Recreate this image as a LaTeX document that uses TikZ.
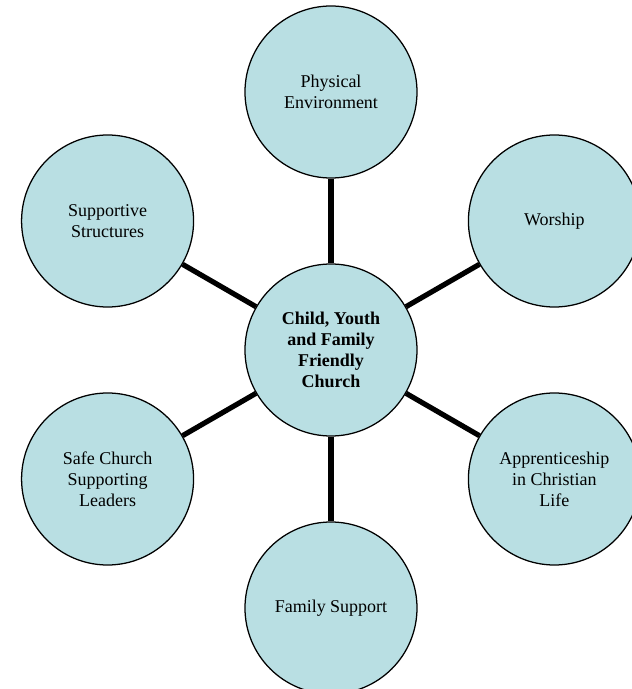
\documentclass[tikz,border=0pt]{standalone}
\usepackage{fontspec}
\setmainfont{Liberation Serif}
\usepackage{xcolor}
\usepackage{tikz}
\usetikzlibrary{positioning,calc}
\definecolor{areablue}{RGB}{185,223,227}

\begin{document}
\begin{tikzpicture}[
    area/.style={circle, draw, line width=0.9pt, fill=areablue, minimum size=4.3cm,
        inner sep=0pt, align=center, font=\fontsize{12.8}{14.9}\selectfont},
    link/.style={line width=3.7pt}
]
    \useasboundingbox (-8.275,-8.475) rectangle (7.525,8.75);

    % Centre
    \node[area, font=\fontsize{12.8}{14.9}\selectfont\bfseries] (church) at (0,0)
        {Child, Youth\\and Family\\Friendly\\Church};

    % Surrounding areas
    \node[area] (physical) at (90:6.45) {Physical\\Environment};
    \node[area] (worship) at (30:6.45) {Worship};
    \node[area] (apprentice) at (-30:6.45) {Apprenticeship\\in Christian\\Life};
    \node[area] (family) at (-90:6.45) {Family Support};
    \node[area] (safe) at (210:6.45) {Safe Church\\Supporting\\Leaders};
    \node[area] (supportive) at (150:6.45) {Supportive\\Structures};

    % Links
    \foreach \n in {physical,worship,apprentice,family,safe,supportive}
        \draw[link] (church) -- (\n);
\end{tikzpicture}
\end{document}
